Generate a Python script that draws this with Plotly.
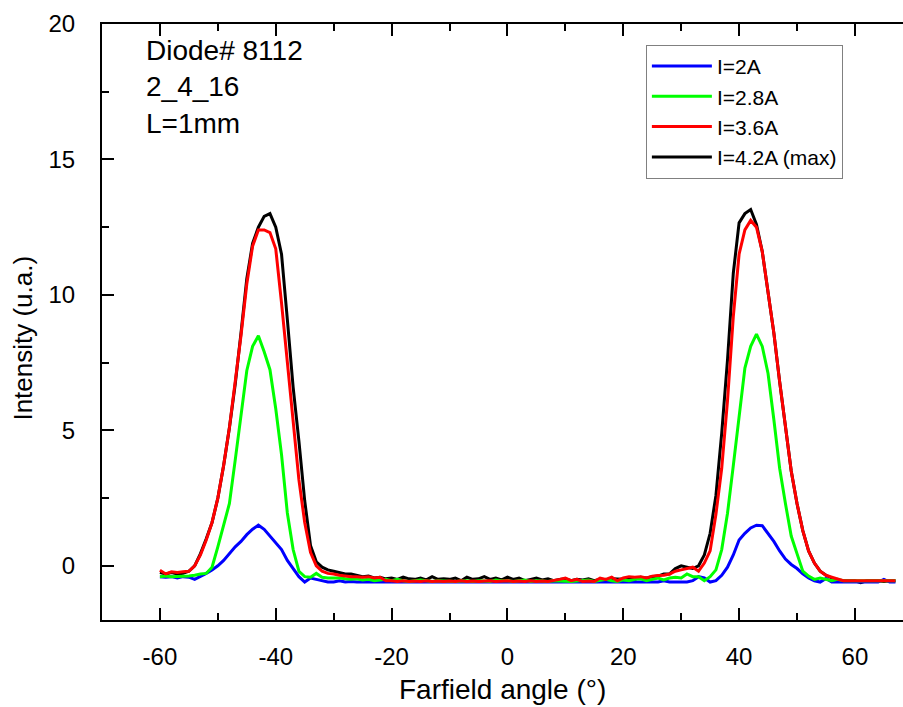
import plotly.graph_objects as go

angle = list(range(-60, 68))

i_2A = [
    -0.4, -0.42, -0.4, -0.45, -0.4, -0.42, -0.5, -0.4, -0.28, -0.15,
    0.0, 0.2, 0.45, 0.7, 0.9, 1.15, 1.35, 1.5, 1.35, 1.1,
    0.85, 0.6, 0.2, -0.1, -0.4, -0.6, -0.45, -0.5, -0.55, -0.6,
    -0.6, -0.55, -0.6, -0.58, -0.6, -0.6, -0.58, -0.6, -0.6, -0.58,
    -0.6, -0.6, -0.58, -0.6, -0.6, -0.6, -0.58, -0.6, -0.6, -0.6,
    -0.6, -0.58, -0.6, -0.6, -0.6, -0.6, -0.58, -0.6, -0.6, -0.6,
    -0.58, -0.6, -0.6, -0.6, -0.58, -0.6, -0.6, -0.6, -0.6, -0.58,
    -0.6, -0.6, -0.6, -0.58, -0.6, -0.6, -0.6, -0.6, -0.58, -0.6,
    -0.6, -0.6, -0.58, -0.6, -0.6, -0.6, -0.6, -0.55, -0.6, -0.6,
    -0.6, -0.6, -0.55, -0.4, -0.45, -0.6, -0.55, -0.35, -0.05, 0.4,
    0.95, 1.2, 1.4, 1.5, 1.48, 1.2, 0.9, 0.55, 0.25, 0.05,
    -0.1, -0.3, -0.45, -0.55, -0.6, -0.47, -0.6, -0.6, -0.6, -0.6,
    -0.6, -0.6, -0.6, -0.58, -0.6, -0.5, -0.6, -0.6,
]

i_2_8A = [
    -0.4, -0.38, -0.4, -0.4, -0.4, -0.38, -0.35, -0.3, -0.28, -0.05,
    0.7, 1.45, 2.3, 3.9, 5.5, 7.2, 8.1, 8.49, 7.9, 7.24,
    5.8, 4.1, 1.95, 0.6, -0.2, -0.4, -0.42, -0.28, -0.42, -0.45,
    -0.45, -0.45, -0.48, -0.5, -0.48, -0.52, -0.5, -0.55, -0.52, -0.5,
    -0.55, -0.5, -0.55, -0.58, -0.55, -0.52, -0.55, -0.58, -0.55, -0.56,
    -0.55, -0.58, -0.56, -0.55, -0.58, -0.55, -0.56, -0.58, -0.52, -0.55,
    -0.55, -0.58, -0.55, -0.52, -0.58, -0.55, -0.56, -0.58, -0.55, -0.56,
    -0.55, -0.58, -0.56, -0.55, -0.52, -0.58, -0.55, -0.5, -0.55, -0.58,
    -0.52, -0.55, -0.5, -0.48, -0.55, -0.5, -0.45, -0.52, -0.45, -0.42,
    -0.45, -0.3, -0.4, -0.4, -0.55, -0.4, -0.15, 0.6, 1.94, 3.7,
    5.5, 7.3, 8.1, 8.55, 8.1, 7.1, 5.4, 3.6, 2.3, 1.1,
    0.45, -0.2, -0.38, -0.5, -0.45, -0.5, -0.55, -0.5, -0.55, -0.55,
    -0.55, -0.55, -0.55, -0.55, -0.55, -0.55, -0.55, -0.55,
]

i_3_6A = [
    -0.16, -0.3, -0.22, -0.25, -0.22, -0.2, 0.0, 0.4, 0.95, 1.6,
    2.5, 3.7, 5.1, 6.7, 8.5, 10.4, 11.8, 12.4, 12.4, 12.3,
    11.7, 9.7, 7.5, 5.35, 3.17, 1.6, 0.5, 0.0, -0.2, -0.28,
    -0.3, -0.35, -0.38, -0.4, -0.4, -0.42, -0.4, -0.45, -0.42, -0.55,
    -0.55, -0.58, -0.55, -0.58, -0.56, -0.58, -0.55, -0.58, -0.56, -0.58,
    -0.56, -0.58, -0.55, -0.58, -0.56, -0.58, -0.56, -0.55, -0.58, -0.56,
    -0.55, -0.58, -0.56, -0.58, -0.55, -0.58, -0.56, -0.58, -0.55, -0.5,
    -0.45, -0.55, -0.5, -0.58, -0.56, -0.58, -0.45, -0.5, -0.42, -0.55,
    -0.45, -0.4, -0.42, -0.4, -0.45, -0.38, -0.36, -0.35, -0.3, -0.2,
    -0.15, -0.1, -0.05, -0.2, 0.1, 0.55, 1.9, 3.6, 6.1, 9.2,
    11.5, 12.4, 12.75, 12.5, 11.6, 10.1, 8.6, 6.8, 5.1, 3.5,
    2.3, 1.3, 0.55, 0.1, -0.2, -0.35, -0.42, -0.5, -0.55, -0.55,
    -0.55, -0.55, -0.55, -0.55, -0.55, -0.55, -0.55, -0.55,
]

i_4_2A = [
    -0.25, -0.3, -0.25, -0.3, -0.28, -0.2, 0.0, 0.45, 1.0, 1.6,
    2.5, 3.7, 5.1, 6.7, 8.6, 10.6, 11.9, 12.5, 12.9, 13.0,
    12.5, 11.5, 9.1, 6.6, 4.6, 2.4, 0.75, 0.15, -0.05, -0.15,
    -0.2, -0.25, -0.3, -0.3, -0.35, -0.4, -0.38, -0.45, -0.42, -0.48,
    -0.45, -0.5, -0.42, -0.48, -0.5, -0.45, -0.52, -0.4, -0.5, -0.48,
    -0.5, -0.45, -0.55, -0.42, -0.5, -0.48, -0.4, -0.5, -0.45, -0.52,
    -0.42, -0.5, -0.45, -0.55, -0.5, -0.45, -0.52, -0.48, -0.55, -0.5,
    -0.48, -0.55, -0.5, -0.52, -0.48, -0.55, -0.5, -0.52, -0.48, -0.5,
    -0.5, -0.45, -0.5, -0.42, -0.45, -0.4, -0.38, -0.3, -0.3, -0.1,
    0.0, -0.05, -0.1, 0.0, 0.4, 1.2, 2.6, 4.9, 7.6, 10.8,
    12.66, 13.0, 13.15, 12.6, 11.6, 10.1, 8.6, 6.8, 5.1, 3.5,
    2.3, 1.3, 0.55, 0.1, -0.2, -0.35, -0.45, -0.55, -0.55, -0.55,
    -0.55, -0.62, -0.55, -0.55, -0.55, -0.58, -0.55, -0.55,
]

x_ticks = [-60, -40, -20, 0, 20, 40, 60]
x_tick_labels = ["-60", "-40", "-20", "0", "20", "40", "60"]
y_ticks = [0, 5, 10, 15, 20]
y_tick_labels = ["0", "5", "10", "15", "20"]

series = [
    ("I=4.2A (max)", i_4_2A, "#000000", 4),
    ("I=2A", i_2A, "#0000FF", 1),
    ("I=2.8A", i_2_8A, "#00FF00", 2),
    ("I=3.6A", i_3_6A, "#FF0000", 3),
]

FONT = "Liberation Sans, Arial, sans-serif"

fig = go.Figure()
for name, vals, color, rank in series:
    fig.add_trace(go.Scatter(
        x=angle, y=vals, mode="lines", name=name,
        line=dict(color=color, width=3),
        legendrank=rank,
    ))

axis_common = dict(
    showline=True, linecolor="black", linewidth=2,
    ticks="inside", ticklen=12, tickwidth=2, tickcolor="black",
    showgrid=False, zeroline=False,
    tickfont=dict(family=FONT, size=24, color="black"),
    minor=dict(ticks="inside", ticklen=7, tickwidth=2, tickcolor="black"),
)

fig.update_xaxes(
    range=[-70, 68.3], tickvals=x_ticks, ticktext=x_tick_labels,
    mirror="allticks",
    minor_dtick=10, minor_tick0=0,
    ticklabelstandoff=14,
    **axis_common,
)
fig.update_yaxes(
    range=[-2, 20], tickvals=y_ticks, ticktext=y_tick_labels,
    minor_dtick=2.5, minor_tick0=0,
    ticklabelstandoff=20,
    **axis_common,
)

fig.add_annotation(
    text="Farfield angle (°)", xref="paper", yref="paper",
    x=0.5, y=-0.117, xanchor="center", yanchor="middle", showarrow=False,
    font=dict(family=FONT, size=28, color="black"),
)
fig.add_annotation(
    text="Intensity (u.a.)", xref="paper", yref="paper",
    x=-0.098, y=0.473, xanchor="center", yanchor="middle", showarrow=False,
    textangle=-90,
    font=dict(family=FONT, size=26, color="black"),
)
fig.add_annotation(
    text="Diode# 8112<br>2_4_16<br>L=1mm", xref="paper", yref="paper",
    x=0.052, y=0.985, xanchor="left", yanchor="top", showarrow=False,
    align="left",
    font=dict(family=FONT, size=28, color="black"),
)

fig.update_layout(
    width=903, height=707,
    margin=dict(l=102, r=0, t=24, b=87),
    paper_bgcolor="white", plot_bgcolor="white",
    showlegend=True,
    legend=dict(
        x=0.679, y=0.965, xanchor="left", yanchor="top",
        bgcolor="white", bordercolor="#808080", borderwidth=1,
        font=dict(family=FONT, size=21, color="black"),
        itemwidth=60, tracegroupgap=0,
    ),
)

fig.write_html(
    "out.html",
    config={"displayModeBar": False},
    post_script="document.body.style.margin='0px';document.body.style.overflow='hidden';",
)
